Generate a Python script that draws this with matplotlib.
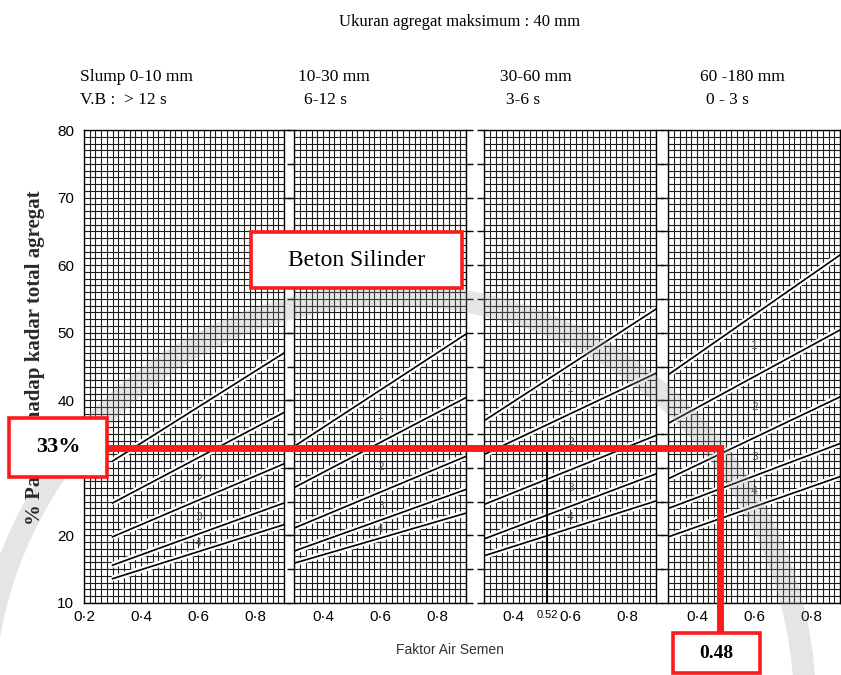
import matplotlib
matplotlib.use("Agg")
import numpy as np
import matplotlib.pyplot as plt
from matplotlib.patches import Arc, Rectangle
from matplotlib.lines import Line2D

# values
panel_xlim = [(0.2, 0.9), (0.3, 0.9), (0.3, 0.9), (0.3, 0.9)]
slump_labels = ["Slump 0-10 mm", "10-30 mm", "30-60 mm", "60 -180 mm"]
vb_labels = ["V.B :  > 12 s", "6-12 s", "3-6 s", "0 - 3 s"]
line_x = [0.3, 0.9]
# % sand at w/c 0.3 and 0.9 for the five boundary lines of each panel
panel1_lines = [[31.0, 47.0], [24.8, 38.2], [19.8, 30.6], [15.6, 24.8], [13.6, 21.6]]
panel2_lines = [[33.2, 49.8], [27.1, 40.4], [21.1, 31.7], [17.7, 26.8], [15.9, 23.3]]
panel3_lines = [[37.0, 53.5], [32.0, 44.0], [24.6, 34.8], [19.5, 29.1], [17.0, 25.1]]
panel4_lines = [[43.8, 61.5], [36.6, 50.4], [28.4, 40.5], [24.0, 33.6], [19.8, 28.7]]
zone_labels = ["1", "2", "3", "4"]
xtick_vals = [[0.2, 0.4, 0.6, 0.8], [0.4, 0.6, 0.8], [0.4, 0.52, 0.6, 0.8], [0.4, 0.6, 0.8]]
xtick_text = [["0·2", "0·4", "0·6", "0·8"], ["0·4", "0·6", "0·8"],
              ["0·4", "0.52", "0·6", "0·8"], ["0·4", "0·6", "0·8"]]
ytick_vals = [10, 20, 30, 40, 50, 60, 70, 80]
pasir_pct = 33     # chosen % sand
fas_value = 0.48   # chosen water/cement factor (panel 4)
fas_mark = 0.52    # hand drawn mark in panel 3

W, H = 841, 675
fig = plt.figure(figsize=(W / 100, H / 100), dpi=100)
fig.patch.set_facecolor("white")


def fx(px):
    return px / W


def fy(py):
    return 1 - py / H


# panel placement in pixels (left, right)
panel_px = [(84, 284), (294.4, 466), (484.4, 656), (668.4, 840)]
top_px, bot_px = 130, 603
all_lines = [panel1_lines, panel2_lines, panel3_lines, panel4_lines]
axes = []
for i, (l, r) in enumerate(panel_px):
    ax = fig.add_axes([fx(l), fy(bot_px), (r - l) / W, (bot_px - top_px) / H])
    x0, x1 = panel_xlim[i]
    ax.set_xlim(x0, x1)
    ax.set_ylim(10, 80)
    # dense millimetre-paper grid
    ax.vlines(np.arange(x0, x1 + 0.001, 0.02), 10, 80, color="#1c1c1c", lw=0.8, zorder=1)
    ax.hlines(np.arange(10, 81, 1), x0, x1, color="#1c1c1c", lw=0.8, zorder=1)
    for ys in all_lines[i]:
        ax.plot(line_x, ys, color="white", lw=4.5, zorder=2, solid_capstyle="butt")
        ax.plot(line_x, ys, color="black", lw=1.2, zorder=3)
    # zone numbers between the lines
    xm = 0.6
    for k, lab in enumerate(zone_labels):
        ya = np.interp(xm, line_x, all_lines[i][k])
        yb = np.interp(xm, line_x, all_lines[i][k + 1])
        ax.text(xm, (ya + yb) / 2, lab, fontsize=8, color="#555555",
                ha="center", va="center", zorder=4)
    for s in ax.spines.values():
        s.set_linewidth(1.0)
    ax.set_xticks(xtick_vals[i])
    ax.set_xticklabels(xtick_text[i], fontsize=11, family="Liberation Sans")
    for t in ax.get_xticklabels():
        if t.get_text() == "0.52":
            t.set_fontsize(8)
    ax.tick_params(axis="x", length=0, pad=5)
    ax.set_yticks(np.arange(10, 81, 5))
    ax.tick_params(axis="y", direction="out", length=5, width=1.0,
                   left=True, right=True, labelleft=False)
    axes.append(ax)

ax1 = axes[0]
ax1.set_yticks(ytick_vals)
ax1.set_yticklabels([str(v) for v in ytick_vals], fontsize=11, family="Liberation Sans")
ax1.tick_params(axis="y", labelleft=True, left=False, right=True, pad=2)

# hand drawn vertical mark at 0.52 in panel 3
axes[2].vlines(fas_mark, 10, pasir_pct, color="black", lw=1.3, zorder=4)

# headings
fig.text(fx(460), fy(22), "Ukuran agregat maksimum : 40 mm", ha="center", va="center",
         family="Liberation Serif", fontsize=12)
head_px = [80, 298, 500, 700]
for k in range(4):
    fig.text(fx(head_px[k]), fy(77), slump_labels[k], ha="left", va="center",
             family="Liberation Serif", fontsize=12.5)
    fig.text(fx(head_px[k] + (0 if k == 0 else 6)), fy(100), vb_labels[k], ha="left",
             va="center", family="Liberation Serif", fontsize=12.5)
# y label sits under the 33% box, as in the scan
fig.text(fx(35), fy(358), "% Pasir terhadap kadar total agregat", rotation=90,
         ha="center", va="center", family="Liberation Serif", fontsize=15,
         fontweight="bold", color="#2a2a2a", zorder=1)
fig.text(fx(450), fy(650), "Faktor Air Semen", ha="center", va="center",
         family="Liberation Sans", fontsize=10, color="#333333")

# faint watermark ring
fig.add_artist(Arc((fx(394), fy(706)), 2 * 411 / W, 2 * 411 / H, theta1=0, theta2=180,
                   transform=fig.transFigure, color="#9a9a9a", lw=16, alpha=0.25, zorder=0.5))

# red reading lines: 33 % -> 0.48
to_fig = fig.transFigure.inverted()
px_a = to_fig.transform(ax1.transData.transform((0.3, pasir_pct)))
px_b = to_fig.transform(axes[3].transData.transform((fas_value, pasir_pct)))
fig.add_artist(Line2D([fx(100), px_b[0]], [px_a[1], px_a[1]], transform=fig.transFigure,
                      color="#ff1a1a", lw=5, zorder=2, solid_capstyle="projecting"))
fig.add_artist(Line2D([px_b[0], px_b[0]], [px_a[1], fy(634)], transform=fig.transFigure,
                      color="#ff1a1a", lw=5, zorder=2))


def red_box(x0, y0, x1, y1, text, size, weight):
    fig.add_artist(Rectangle((fx(x0), fy(y1)), (x1 - x0) / W, (y1 - y0) / H,
                             transform=fig.transFigure, facecolor="white",
                             edgecolor="#ff1a1a", lw=2.6, zorder=2.5))
    fig.text(fx((x0 + x1) / 2), fy((y0 + y1) / 2), text, ha="center", va="center",
             family="Liberation Serif", fontsize=size, fontweight=weight, zorder=3)


red_box(9, 418, 107, 477, f"{pasir_pct}%", 16, "bold")
red_box(251, 232, 462, 288, "Beton Silinder", 17, "normal")
red_box(673, 633, 760, 673, f"{fas_value:.2f}", 14, "bold")

fig.savefig("out.png", dpi=100)
